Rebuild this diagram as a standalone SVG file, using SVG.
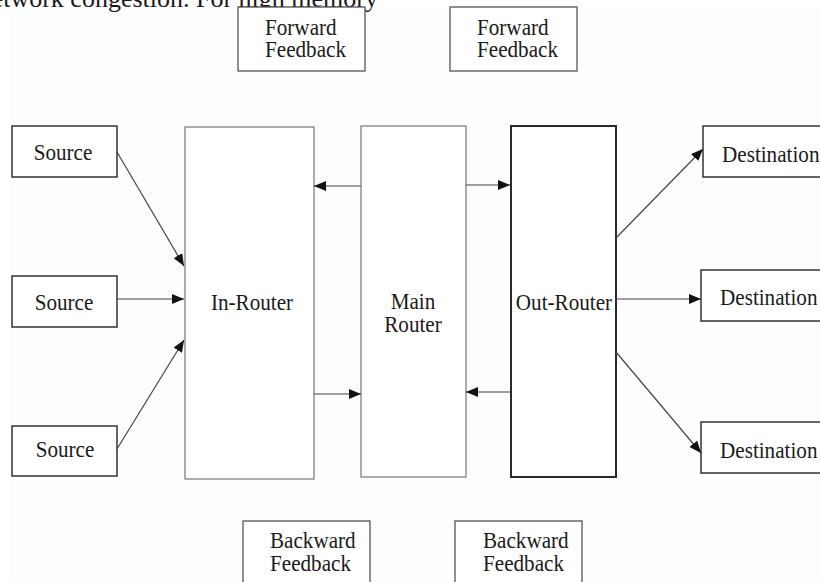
<svg xmlns="http://www.w3.org/2000/svg" width="820" height="582" viewBox="0 0 820 582">
<defs>
<style>
text{font-family:"Liberation Serif","Times New Roman",serif;font-size:23px;fill:#1a1a1a}
.m{text-anchor:middle}
.top{font-size:26px}
.box{fill:#fff;stroke:#333;stroke-width:1.5}
.fb{fill:#fff;stroke:#555;stroke-width:1.3}
.rt{fill:#fff;stroke:#777;stroke-width:1.2}
.ort{fill:#fff;stroke:#2a2a2a;stroke-width:2}
.c{stroke:#444;stroke-width:1.2;fill:none;marker-end:url(#ah)}
</style>
<marker id="ah" viewBox="0 0 12 10" refX="12" refY="5" markerWidth="12" markerHeight="10" markerUnits="userSpaceOnUse" orient="auto">
<path d="M0,0 L12,5 L0,10 Z" fill="#111"/>
</marker>
</defs>
<rect x="0" y="0" width="820" height="582" fill="#fff"/>
<rect x="10" y="9" width="810" height="573" fill="#fcfdfe"/>
<text class="top" x="378" y="7" text-anchor="end">network congestion. For high memory</text>

<g id="ff1"><rect class="fb" x="238" y="7" width="127" height="64"/><text transform="matrix(0.92,0,0,1,265,35)">Forward</text><text transform="matrix(0.92,0,0,1,265,57)">Feedback</text></g>
<g id="ff2"><rect class="fb" x="450" y="7" width="127" height="64"/><text transform="matrix(0.92,0,0,1,477,35)">Forward</text><text transform="matrix(0.92,0,0,1,477,57)">Feedback</text></g>

<g id="src1"><rect class="box" x="12" y="126" width="105" height="51"/><text class="m" transform="matrix(0.92,0,0,1,63,160)">Source</text></g>
<g id="src2"><rect class="box" x="12" y="276" width="105" height="51"/><text class="m" transform="matrix(0.92,0,0,1,64,310)">Source</text></g>
<g id="src3"><rect class="box" x="12" y="426" width="105" height="50"/><text class="m" transform="matrix(0.92,0,0,1,65,457)">Source</text></g>

<g id="inrouter"><rect class="rt" x="185" y="127" width="129" height="352"/><text class="m" transform="matrix(0.92,0,0,1,252,310)">In-Router</text></g>
<g id="mainrouter"><rect class="rt" x="361" y="126" width="105" height="351"/><text class="m" transform="matrix(0.92,0,0,1,413,309)">Main</text><text class="m" transform="matrix(0.92,0,0,1,413,332)">Router</text></g>
<g id="outrouter"><rect class="ort" x="511" y="126" width="105" height="351"/><text class="m" transform="matrix(0.92,0,0,1,564,310)">Out-Router</text></g>

<g id="dst1"><rect class="box" x="703" y="126" width="130" height="51"/><text transform="matrix(0.92,0,0,1,722,162)">Destination</text></g>
<g id="dst2"><rect class="box" x="701" y="270" width="130" height="51"/><text transform="matrix(0.92,0,0,1,720,305)">Destination</text></g>
<g id="dst3"><rect class="box" x="701" y="422" width="130" height="51"/><text transform="matrix(0.92,0,0,1,720,458)">Destination</text></g>

<g id="bf1"><rect class="fb" x="243" y="521" width="127" height="70"/><text transform="matrix(0.92,0,0,1,270,548)">Backward</text><text transform="matrix(0.92,0,0,1,270,571)">Feedback</text></g>
<g id="bf2"><rect class="fb" x="455" y="521" width="127" height="70"/><text transform="matrix(0.92,0,0,1,483,548)">Backward</text><text transform="matrix(0.92,0,0,1,483,571)">Feedback</text></g>

<g id="connectors">
<line class="c" x1="117" y1="152" x2="184" y2="266"/>
<line class="c" x1="117" y1="299" x2="184" y2="299"/>
<line class="c" x1="117" y1="449" x2="184" y2="340"/>
<line class="c" x1="361" y1="186" x2="314" y2="186"/>
<line class="c" x1="314" y1="394" x2="361" y2="394"/>
<line class="c" x1="466" y1="185" x2="510" y2="185"/>
<line class="c" x1="511" y1="392" x2="466" y2="392"/>
<line class="c" x1="616" y1="238" x2="703" y2="149"/>
<line class="c" x1="616" y1="299" x2="701" y2="299"/>
<line class="c" x1="616" y1="352" x2="701" y2="453"/>
</g>
</svg>
